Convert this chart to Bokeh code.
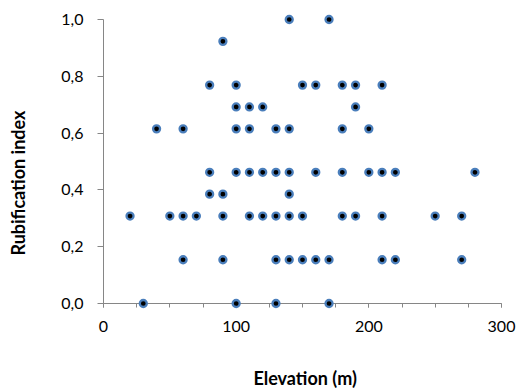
import math
from bokeh.plotting import figure
from bokeh.models import Range1d, SingleIntervalTicker, CustomJSTickFormatter
from bokeh.core.properties import value
from bokeh.embed import file_html
from bokeh.resources import INLINE

# Data (Elevation in m, Rubification index)
elevation = [140, 170,
             90,
             80, 100, 150, 160, 180, 190, 210,
             100, 110, 120, 190,
             40, 60, 100, 110, 130, 140, 180, 200,
             80, 100, 110, 120, 130, 140, 160, 180, 200, 210, 220, 280,
             80, 90, 140,
             20, 50, 60, 70, 90, 110, 120, 130, 140, 150, 180, 190, 210, 250, 270,
             60, 90, 130, 140, 150, 160, 170, 210, 220, 270,
             30, 100, 130, 170]
rubification = [1.0, 1.0,
                0.923,
                0.769, 0.769, 0.769, 0.769, 0.769, 0.769, 0.769,
                0.692, 0.692, 0.692, 0.692,
                0.615, 0.615, 0.615, 0.615, 0.615, 0.615, 0.615, 0.615,
                0.462, 0.462, 0.462, 0.462, 0.462, 0.462, 0.462, 0.462, 0.462, 0.462, 0.462, 0.462,
                0.385, 0.385, 0.385,
                0.308, 0.308, 0.308, 0.308, 0.308, 0.308, 0.308, 0.308, 0.308, 0.308, 0.308, 0.308, 0.308, 0.308, 0.308,
                0.154, 0.154, 0.154, 0.154, 0.154, 0.154, 0.154, 0.154, 0.154, 0.154,
                0.0, 0.0, 0.0, 0.0]

x_title = "Elevation (m)"
y_title = "Rubification index"

FONT = "Lato"
AXIS_COLOR = "#868686"

p = figure(width=519, height=391, output_backend="svg", toolbar_location=None,
           x_range=Range1d(0, 300), y_range=Range1d(0, 1),
           min_border_left=103, min_border_right=18, min_border_top=19, min_border_bottom=88)
p.outline_line_color = None
p.grid.visible = False
p.background_fill_color = "white"
p.border_fill_color = "white"

r = p.scatter(elevation, rubification, size=7, fill_color="black",
              line_color="#4A7EBB", line_width=2.3, marker="circle")
r.level = "overlay"

# x axis
xa = p.xaxis[0]
xa.ticker = SingleIntervalTicker(interval=100, num_minor_ticks=4)
xa.axis_line_color = AXIS_COLOR
xa.major_tick_line_color = AXIS_COLOR
xa.minor_tick_line_color = AXIS_COLOR
xa.major_tick_out = 4
xa.major_tick_in = 0
xa.minor_tick_out = 4
xa.minor_tick_in = 0
xa.major_label_text_font = FONT
xa.major_label_text_font_size = "16px"
xa.major_label_text_color = "black"
xa.major_label_standoff = 13

# y axis
ya = p.yaxis[0]
ya.ticker = SingleIntervalTicker(interval=0.2, num_minor_ticks=0)
ya.formatter = CustomJSTickFormatter(code="return tick.toFixed(1).replace('.', ',');")
ya.axis_line_color = AXIS_COLOR
ya.major_tick_line_color = AXIS_COLOR
ya.minor_tick_line_color = None
ya.major_tick_out = 6
ya.major_tick_in = 0
ya.major_label_text_font = FONT
ya.major_label_text_font_size = "16px"
ya.major_label_text_color = "black"
ya.major_label_standoff = 14

# axis titles (drawn as unclipped overlay text)
tx = p.text(x=[152], y=[-0.262], text=[x_title], text_font=value(FONT),
            text_font_size="18px", text_font_style="bold", text_align="center",
            text_baseline="middle", text_color="black")
tx.level = "overlay"
ty = p.text(x=[-64.4], y=[0.424], text=[y_title], text_font=value(FONT),
            text_font_size="18px", text_font_style="bold", text_align="center",
            text_baseline="middle", angle=math.pi / 2, text_color="black")
ty.level = "overlay"

open("out.html", "w").write(file_html(p, INLINE))
